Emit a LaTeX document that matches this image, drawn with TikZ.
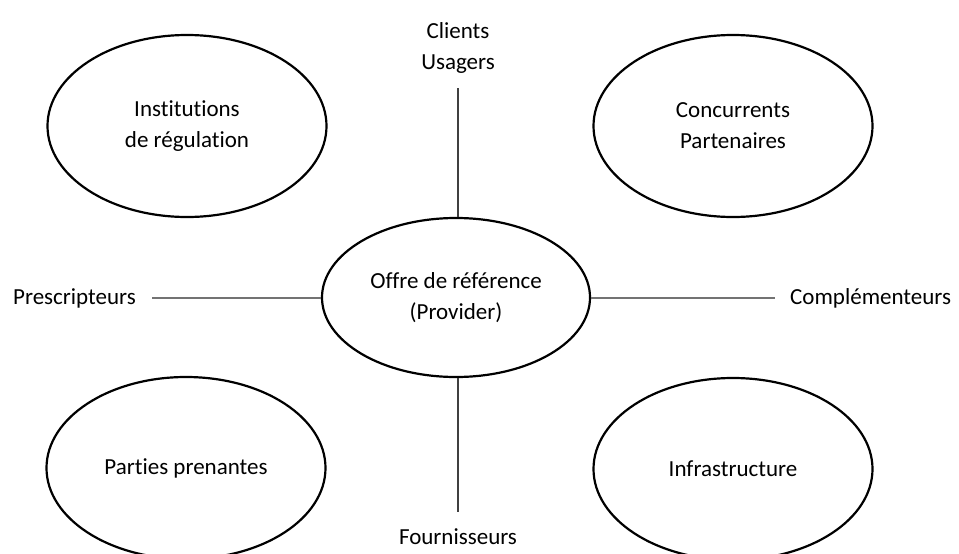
\documentclass[tikz,border=0pt]{standalone}
\usepackage{fontspec}
\setmainfont{Carlito}[Ligatures=NoCommon]
\usetikzlibrary{shapes.geometric}
\tikzset{
  bubble/.style={ellipse, draw=black, line width=2.2pt, inner sep=0pt,
    minimum width=279pt, minimum height=182pt, align=center, text=black},
  hub/.style={ellipse, draw=black, line width=2.2pt, inner sep=0pt,
    minimum width=268pt, minimum height=159pt, align=center, text=black},
  lbl/.style={inner sep=0pt, align=center, text=black},
  hline/.style={line width=1.6pt, draw=black!55},
  vline/.style={line width=1.2pt, draw=black!75}
}
\begin{document}
\begin{tikzpicture}[x=1pt, y=-1pt, font=\fontsize{23}{31}\selectfont]
\useasboundingbox (0,0) rectangle (959,554);
\node[hub] (hub) at (456,297.5) {Offre de référence\\(Provider)};
\node[bubble] (inst) at (187,126) {Institutions\\de régulation};
\node[bubble] (conc) at (733,126) {Concurrents\\Partenaires};
\node[bubble] (part) at (186,468) {Parties prenantes};
\node[bubble] (infra) at (733,469) {Infrastructure};
\node[lbl] (cli) at (458,48) {Clients\\Usagers};
\node[lbl, anchor=east] (pres) at (136,298) {Prescripteurs};
\node[lbl, anchor=west] (comp) at (790,298) {Complémenteurs};
\node[lbl] (four) at (458,537) {Fournisseurs};
\coordinate (ctop) at (458,88);
\coordinate (cbot) at (458,512);
\coordinate (cleft) at (152,298);
\coordinate (cright) at (775,298);
\draw[vline] (ctop) -- (hub.north -| ctop);
\draw[vline] (hub.south -| cbot) -- (cbot);
\draw[hline] (cleft) -- (hub.west |- cleft);
\draw[hline] (hub.east |- cright) -- (cright);
\end{tikzpicture}
\end{document}
